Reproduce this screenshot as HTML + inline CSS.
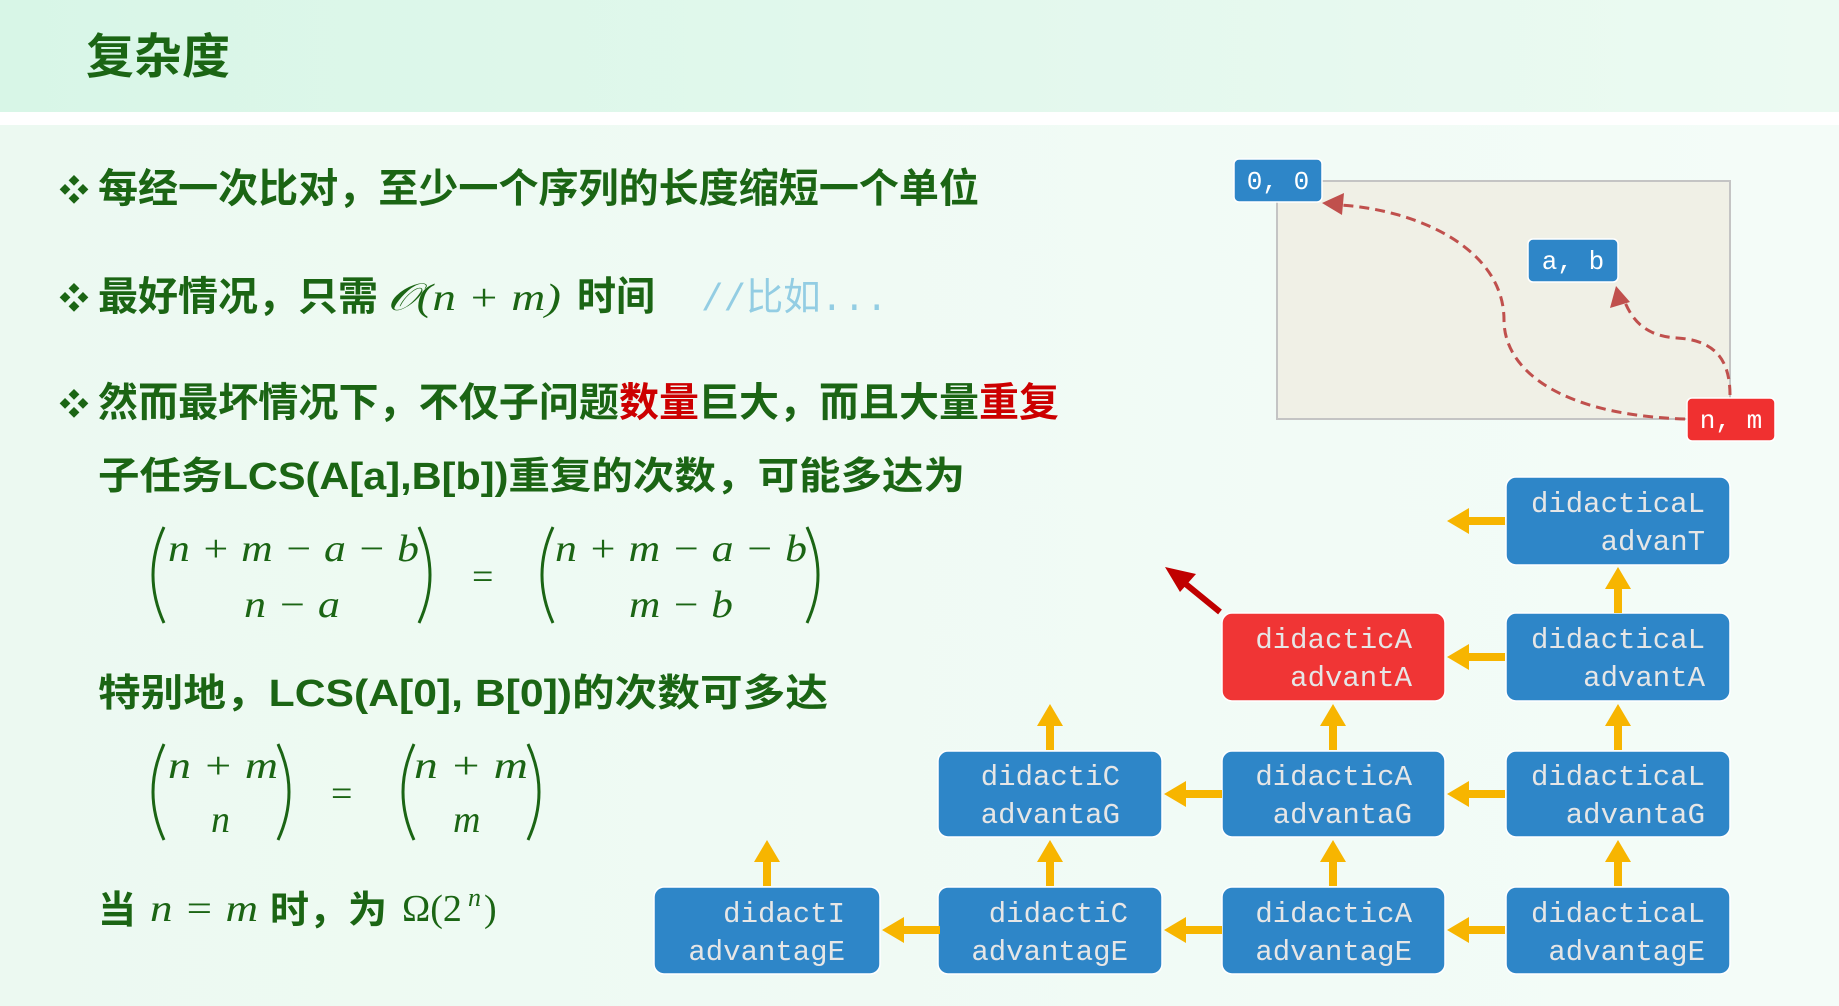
<!DOCTYPE html>
<html><head><meta charset="utf-8"><style>
html,body{margin:0;padding:0;}
body{width:1839px;height:1006px;overflow:hidden;background:#f0faf4;position:relative;font-family:"Liberation Sans","Noto Sans CJK SC",sans-serif;}
#hdr{position:absolute;left:0;top:0;width:1839px;height:112px;background:linear-gradient(90deg,#d8f6e7,#ecfaf2);}
#strip{position:absolute;left:0;top:112px;width:1839px;height:13px;background:#fff;}
#body{position:absolute;left:0;top:125px;width:1839px;height:881px;background:linear-gradient(90deg,#ecf9f1,#f4fcf8);}
svg{position:absolute;left:0;top:0;}
.cj{font-family:"Liberation Sans","Noto Sans CJK SC",sans-serif;font-weight:700;fill:#1b6514;}
.m{font-family:"Liberation Serif",serif;font-style:italic;fill:#1b6514;}
.mn{font-family:"Liberation Serif",serif;fill:#1b6514;}
.bx{font-family:"Liberation Mono",monospace;font-size:29px;fill:#e6e6e6;}
.lb{font-family:"Liberation Mono",monospace;font-size:26px;fill:#fff;}
</style></head><body>
<div id="hdr"></div><div id="strip"></div><div id="body"></div>
<svg width="1839" height="1006" viewBox="0 0 1839 1006">
<text x="86" y="73" class="cj" font-size="48" textLength="144" lengthAdjust="spacingAndGlyphs">复杂度</text>

<text x="59" y="201" class="cj" font-size="30">❖</text>
<text x="98" y="202" class="cj" font-size="40" textLength="881" lengthAdjust="spacingAndGlyphs">每经一次比对，至少一个序列的长度缩短一个单位</text>

<text x="59" y="309" class="cj" font-size="30">❖</text>
<text x="98" y="310" class="cj" font-size="40" textLength="280" lengthAdjust="spacingAndGlyphs">最好情况，只需</text>
<text x="387" y="310" class="m" font-size="38" textLength="174" lengthAdjust="spacingAndGlyphs">𝒪(n + m)</text>
<text x="577" y="310" class="cj" font-size="40" textLength="78" lengthAdjust="spacingAndGlyphs">时间</text>
<text x="701" y="310" font-family="Liberation Mono,Noto Sans CJK SC,monospace" font-size="38" fill="#93cde3" textLength="187" lengthAdjust="spacingAndGlyphs">//比如...</text>

<text x="59" y="415" class="cj" font-size="30">❖</text>
<text x="98" y="416" class="cj" font-size="40" textLength="521" lengthAdjust="spacingAndGlyphs">然而最坏情况下，不仅子问题</text>
<text x="619" y="416" class="cj" font-size="40" style="fill:#cc0000" textLength="80" lengthAdjust="spacingAndGlyphs">数量</text>
<text x="699" y="416" class="cj" font-size="40" textLength="280" lengthAdjust="spacingAndGlyphs">巨大，而且大量</text>
<text x="979" y="416" class="cj" font-size="40" style="fill:#cc0000" textLength="80" lengthAdjust="spacingAndGlyphs">重复</text>

<text x="98" y="489" class="cj" font-size="38" textLength="867" lengthAdjust="spacingAndGlyphs">子任务LCS(A[a],B[b])重复的次数，可能多达为</text>

<!-- binomial 1 -->
<g fill="none" stroke="#1b6514" stroke-width="3">
<path d="M164,527 Q142,575 164,623"/><path d="M419,527 Q441,575 419,623"/>
<path d="M553,527 Q531,575 553,623"/><path d="M807,527 Q829,575 807,623"/>
<path d="M164,744 Q142,792 164,840"/><path d="M278,744 Q300,792 278,840"/>
<path d="M414,744 Q392,792 414,840"/><path d="M528,744 Q550,792 528,840"/>
</g>
<text x="168" y="561" class="m" font-size="38" textLength="251" lengthAdjust="spacingAndGlyphs">n + m − a − b</text>
<text x="244" y="617" class="m" font-size="38" textLength="96" lengthAdjust="spacingAndGlyphs">n − a</text>
<text x="472" y="589" class="mn" font-size="38">=</text>
<text x="555" y="561" class="m" font-size="38" textLength="252" lengthAdjust="spacingAndGlyphs">n + m − a − b</text>
<text x="629" y="617" class="m" font-size="38" textLength="104" lengthAdjust="spacingAndGlyphs">m − b</text>

<text x="98" y="706" class="cj" font-size="38" textLength="730" lengthAdjust="spacingAndGlyphs">特别地，LCS(A[0], B[0])的次数可多达</text>

<text x="168" y="778" class="m" font-size="38" textLength="110" lengthAdjust="spacingAndGlyphs">n + m</text>
<text x="211" y="832" class="m" font-size="38">n</text>
<text x="331" y="806" class="mn" font-size="38">=</text>
<text x="414" y="778" class="m" font-size="38" textLength="114" lengthAdjust="spacingAndGlyphs">n + m</text>
<text x="453" y="832" class="m" font-size="38">m</text>

<text x="98" y="923" class="cj" font-size="38">当</text>
<text x="150" y="921" class="m" font-size="38" textLength="108" lengthAdjust="spacingAndGlyphs">n = m</text>
<text x="270" y="923" class="cj" font-size="38" textLength="117" lengthAdjust="spacingAndGlyphs">时，为</text>
<text x="402" y="921" class="mn" font-size="38">Ω(2</text>
<text x="468" y="906" class="m" font-size="26">n</text>
<text x="484" y="921" class="mn" font-size="38">)</text>

<!-- top right diagram -->
<rect x="1277" y="181" width="453" height="238" fill="#f0f0e6" stroke="#c4c4c4" stroke-width="2"/>
<g fill="none" stroke="#c0504d" stroke-width="3" stroke-dasharray="10,6">
<path d="M1685,419 C1560,415 1504,370 1504,320 C1504,250 1420,210 1340,205"/>
<path d="M1730,395 C1730,360 1715,340 1677,338 C1645,336 1632,320 1624,300"/>
</g>
<polygon points="1322,203 1344,193 1342,215" fill="#c0504d"/>
<polygon points="1616,286 1610,308 1630,302" fill="#c0504d"/>
<rect x="1234" y="159" width="88" height="43" rx="5" fill="#2e86c8" stroke="#fff" stroke-width="1.5"/>
<text x="1278" y="189" class="lb" text-anchor="middle">0, 0</text>
<rect x="1528" y="239" width="90" height="43" rx="5" fill="#2e86c8" stroke="#fff" stroke-width="1.5"/>
<text x="1573" y="269" class="lb" text-anchor="middle">a, b</text>
<rect x="1687" y="398" width="88" height="43" rx="5" fill="#f03030" stroke="#fff" stroke-width="1.5"/>
<text x="1731" y="428" class="lb" text-anchor="middle">n, m</text>

<!-- grid boxes -->
<g stroke="#fff" stroke-width="1.5">
<rect x="1506" y="477" width="224" height="88" rx="10" fill="#2e86c8"/>
<rect x="1222" y="613" width="223" height="88" rx="10" fill="#f03535"/>
<rect x="1506" y="613" width="224" height="88" rx="10" fill="#2e86c8"/>
<rect x="938" y="751" width="224" height="86" rx="10" fill="#2e86c8"/>
<rect x="1222" y="751" width="223" height="86" rx="10" fill="#2e86c8"/>
<rect x="1506" y="751" width="224" height="86" rx="10" fill="#2e86c8"/>
<rect x="654" y="887" width="226" height="87" rx="10" fill="#2e86c8"/>
<rect x="938" y="887" width="224" height="87" rx="10" fill="#2e86c8"/>
<rect x="1222" y="887" width="223" height="87" rx="10" fill="#2e86c8"/>
<rect x="1506" y="887" width="224" height="87" rx="10" fill="#2e86c8"/>
</g>
<g class="bx" text-anchor="end">
<text x="1705" y="512">didacticaL</text><text x="1705" y="550">advanT</text>
<text x="1412" y="648">didacticA</text><text x="1412" y="686">advantA</text>
<text x="1705" y="648">didacticaL</text><text x="1705" y="686">advantA</text>
<text x="1120" y="785">didactiC</text><text x="1120" y="823">advantaG</text>
<text x="1412" y="785">didacticA</text><text x="1412" y="823">advantaG</text>
<text x="1705" y="785">didacticaL</text><text x="1705" y="823">advantaG</text>
<text x="845" y="922">didactI</text><text x="845" y="960">advantagE</text>
<text x="1128" y="922">didactiC</text><text x="1128" y="960">advantagE</text>
<text x="1412" y="922">didacticA</text><text x="1412" y="960">advantagE</text>
<text x="1705" y="922">didacticaL</text><text x="1705" y="960">advantagE</text>
</g>

<defs>
<g id="la"><polygon points="0,0 22,-13 22,-4 58,-4 58,4 22,4 22,13" fill="#f7b500"/></g>
<g id="ua"><polygon points="0,0 -13,22 -4,22 -4,46 4,46 4,22 13,22" fill="#f7b500"/></g>
</defs>
<use href="#la" x="1447" y="521"/>
<use href="#la" x="1447" y="657"/>
<use href="#la" x="1164" y="794"/><use href="#la" x="1447" y="794"/>
<use href="#la" x="882" y="930"/><use href="#la" x="1164" y="930"/><use href="#la" x="1447" y="930"/>
<use href="#ua" x="1618" y="567"/>
<use href="#ua" x="1050" y="704"/><use href="#ua" x="1333" y="704"/><use href="#ua" x="1618" y="704"/>
<use href="#ua" x="767" y="840"/><use href="#ua" x="1050" y="840"/><use href="#ua" x="1333" y="840"/><use href="#ua" x="1618" y="840"/>

<line x1="1220" y1="612" x2="1182" y2="581" stroke="#c00000" stroke-width="6"/>
<polygon points="1165,567 1196,574 1180,592" fill="#c00000"/>
</svg>
</body></html>
